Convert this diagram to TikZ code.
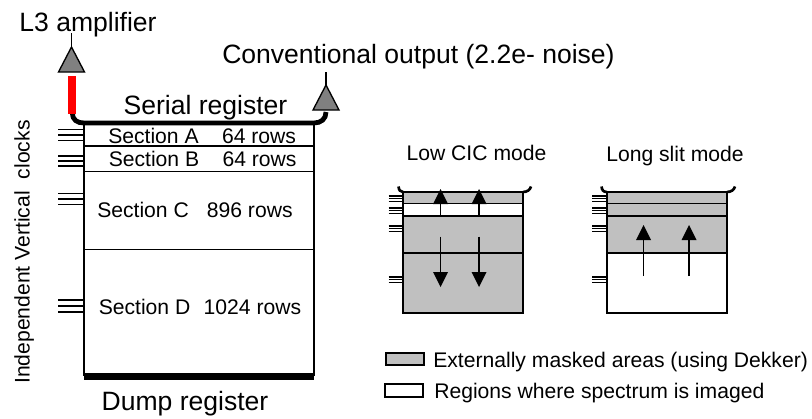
\documentclass[tikz,border=0pt]{standalone}
\usepackage{fontspec}
\setmainfont{Liberation Sans}
\definecolor{maskgray}{RGB}{192,192,192}
\definecolor{ampgray}{RGB}{128,128,128}
\newcommand{\bigtxt}{\fontsize{19.9pt}{22pt}\selectfont}
\newcommand{\smalltxt}{\fontsize{15.85pt}{18pt}\selectfont}
\newcommand{\threeticks}[4]{\draw[clockline] (#1,#3) -- (#2,#3) (#1,#3+#4) -- (#2,#3+#4) (#1,#3+2*#4) -- (#2,#3+2*#4);}
\tikzset{
  x=0.75pt,y=-0.75pt,
  big/.style={font=\bigtxt,inner sep=0pt,text=black},
  small/.style={font=\smalltxt,inner sep=0pt,text=black},
  clockline/.style={line width=1pt,black},
  sect/.style={line width=1.4pt,black},
  curl/.style={line width=2pt,black},
  amp/.style={draw=black,line width=1pt,fill=ampgray,line join=miter},
  flow/.style={line width=1.4pt,black},
  head/.style={fill=black,draw=none},
}
\begin{document}
\begin{tikzpicture}
\useasboundingbox (0,0) rectangle (812,418);
% main device
\coordinate (mTL) at (84,124);
\coordinate (mTR) at (314,124);
\coordinate (mBL) at (84,376);
\coordinate (mBR) at (314,376);
\draw[sect] (mTL) -- (mBL) (mTR) -- (mBR);
\draw[sect] (84,146) -- (314,146) (84,171.5) -- (314,171.5) (84,249.5) -- (314,249.5);
\draw[line width=5.5pt,black] (84,376.5) -- (314,376.5);
\draw[line width=3.6pt,black] (72.5,113) .. controls (72.5,120) and (77,123) .. (84,123) -- (314,123) .. controls (321,123) and (326,119) .. (326,112);
\draw[line width=6pt,red] (71.7,76) -- (71.7,114);
% amplifiers
\draw[line width=1.1pt] (71.5,33) -- (71.5,48);
\draw[amp] (71.5,47) -- (84.5,72) -- (58.5,72) -- cycle;
\draw[line width=1.1pt] (326,72) -- (326,85);
\draw[amp] (326,85) -- (339,110) -- (313,110) -- cycle;
% ticks
\threeticks{58}{84}{129.3}{5.7}
\threeticks{58}{84}{156}{5}
\threeticks{58}{84}{193.3}{5.7}
\threeticks{58}{84}{300}{6}
% labels main
\node[big,anchor=base] (l3) at (88,31) {L3 amplifier};
\node[big,anchor=base west] (conv) at (222,63) {Conventional output (2.2e- noise)};
\node[big,anchor=base] (serial) at (205.5,114.5) {Serial register};
\node[big,anchor=base] (dump) at (185,410) {Dump register};
\node[small,anchor=base west] (secA) at (108,143.3) {Section A\hspace{17.5pt}64 rows};
\node[small,anchor=base west] (secB) at (108.5,166.8) {Section B\hspace{17.5pt}64 rows};
\node[small,anchor=base west] (secC) at (97,217.3) {Section C\hspace{13.5pt}896 rows};
\node[small,anchor=base west] (secD) at (98.5,314) {Section D\hspace{10pt}1024 rows};
\node[small,anchor=base west,rotate=90] (clocks) at (29.7,384) {Independent Vertical\hspace{9pt}clocks};
% Low CIC panel
\node[small,anchor=base] (lowlab) at (476.5,160.8) {Low CIC mode};
\fill[maskgray] (403,192) rectangle (523,313);
\fill[white] (403,204) rectangle (523,216);
\draw[line width=1.5pt] (403,192) rectangle (523,313);
\draw[line width=1.4pt] (403,203.5) -- (523,203.5) (403,216) -- (523,216) (403,253) -- (523,253);
\draw[line width=2pt] (403,192) -- (523,192);
\draw[curl] (398.5,186.5) .. controls (399,190) and (400,192) .. (403,192);
\draw[curl] (523,192) .. controls (527,192) and (530,190) .. (531,186.5);
\foreach \ax in {440.5,479}{
  \draw[flow] (\ax,216) -- (\ax,200);
  \fill[head] (\ax,189) -- (\ax+7.5,204) -- (\ax-7.5,204) -- cycle;
  \draw[flow] (\ax,236.5) -- (\ax,275);
  \fill[head] (\ax,287) -- (\ax+7.5,272) -- (\ax-7.5,272) -- cycle;
}
\threeticks{388.5}{403}{196}{2.8}
\threeticks{388.5}{403}{208}{2.8}
\threeticks{388.5}{403}{226}{2.8}
\threeticks{388.5}{403}{277}{2.8}
% Long slit panel
\node[small,anchor=base] (longlab) at (675,161) {Long slit mode};
\fill[maskgray] (607,192) rectangle (727,253);
\draw[line width=1.5pt] (607,192) rectangle (727,313);
\draw[line width=1.4pt] (607,203.5) -- (727,203.5) (607,216) -- (727,216) (607,253) -- (727,253);
\draw[line width=2pt] (607,192) -- (727,192);
\draw[curl] (601.5,186.5) .. controls (602,190) and (603,192) .. (607,192);
\draw[curl] (727,192) .. controls (731,192) and (734,190) .. (735,186.5);
\foreach \ax in {643.5,689}{
  \draw[flow] (\ax,276) -- (\ax,238);
  \fill[head] (\ax,225) -- (\ax+7.5,240) -- (\ax-7.5,240) -- cycle;
}
\threeticks{592}{607}{196}{2.8}
\threeticks{592}{607}{208}{2.8}
\threeticks{592}{607}{226}{2.8}
\threeticks{592}{607}{277}{2.8}
% legend
\node[draw=black,line width=1.5pt,fill=maskgray,minimum width=38pt*0.75,minimum height=12pt*0.75,inner sep=0pt,anchor=north west] (keymask) at (385,351.5) {};
\node[draw=black,line width=1.5pt,fill=white,minimum width=38pt*0.75,minimum height=12.5pt*0.75,inner sep=0pt,anchor=north west] (keyimg) at (384,383) {};
\node[small,anchor=base west] (masktxt) at (433,367.5) {Externally masked areas (using Dekker)};
\node[small,anchor=base west] (imgtxt) at (434,398) {Regions where spectrum is imaged};
\end{tikzpicture}
\end{document}
